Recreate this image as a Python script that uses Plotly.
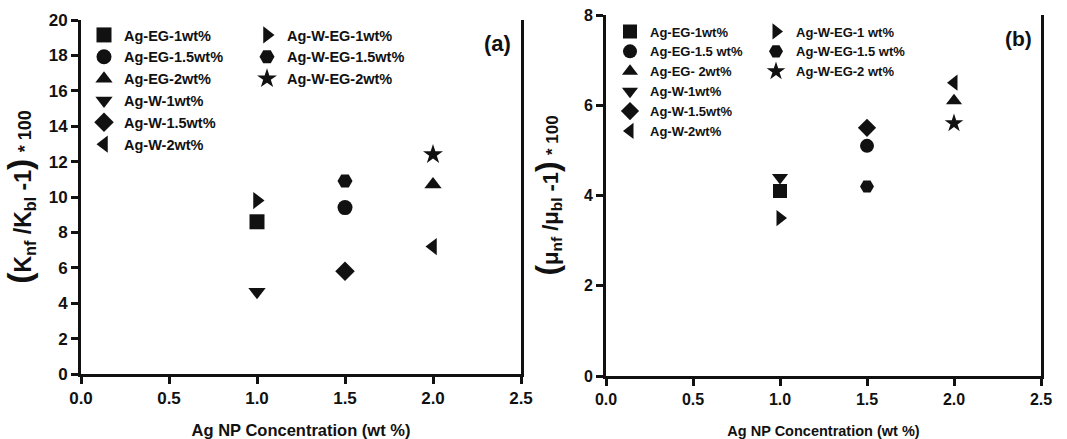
import plotly.graph_objects as go

# ---------------- data ----------------
series_a = ["Ag-EG-1wt%", "Ag-EG-1.5wt%", "Ag-EG-2wt%", "Ag-W-1wt%", "Ag-W-1.5wt%", "Ag-W-2wt%",
            "Ag-W-EG-1wt%", "Ag-W-EG-1.5wt%", "Ag-W-EG-2wt%"]
series_b = ["Ag-EG-1wt%", "Ag-EG-1.5 wt%", "Ag-EG- 2wt%", "Ag-W-1wt%", "Ag-W-1.5wt%", "Ag-W-2wt%",
            "Ag-W-EG-1 wt%", "Ag-W-EG-1.5 wt%", "Ag-W-EG-2 wt%"]
conc = [1.0, 1.5, 2.0, 1.0, 1.5, 2.0, 1.0, 1.5, 2.0]
k_enh = [8.6, 9.4, 10.7, 4.65, 5.8, 7.2, 9.8, 10.9, 12.4]
mu_enh = [4.1, 5.1, 6.1, 4.4, 5.5, 6.5, 3.5, 4.2, 5.6]
symbols = ["square", "circle", "triangle-up", "triangle-down", "diamond", "triangle-left",
           "triangle-right", "hexagon2", "star"]
x_ticks = [0.0, 0.5, 1.0, 1.5, 2.0, 2.5]
x_ticklabels = ["0.0", "0.5", "1.0", "1.5", "2.0", "2.5"]

FONT = "Arial, Liberation Sans, sans-serif"
W, H = 1067, 439

def px_x(p):
    return p / W

def px_y(p):
    return 1 - p / H

fig = go.Figure()

for i in range(9):
    lg_a = "legend" if i < 6 else "legend2"
    lg_b = "legend3" if i < 6 else "legend4"
    fig.add_trace(go.Scatter(x=[conc[i]], y=[k_enh[i]], mode="markers", name=series_a[i],
                             marker=dict(symbol=symbols[i], size=15, color="#111111",
                                         line=dict(width=0)),
                             xaxis="x", yaxis="y", legend=lg_a))
    fig.add_trace(go.Scatter(x=[conc[i]], y=[mu_enh[i]], mode="markers", name=series_b[i],
                             marker=dict(symbol=symbols[i], size=14, color="#111111",
                                         line=dict(width=0)),
                             xaxis="x2", yaxis="y2", legend=lg_b))

axis_common = dict(showline=True, linewidth=3, linecolor="#111111", ticks="outside",
                   ticklen=7, tickwidth=2.5, tickcolor="#111111", showgrid=False,
                   zeroline=False, automargin=False)

ytitle_a = ('<span style="font-size:34px">(</span>K<sub>nf</sub> /K<sub>bl</sub> -1'
            '<span style="font-size:34px">)</span> <span style="font-size:18px">* 100</span>')
ytitle_b = ('<span style="font-size:32px">(</span>μ<sub>nf</sub> /μ<sub>bl</sub> -1'
            '<span style="font-size:32px">)</span> <span style="font-size:17px">* 100</span>')

fig.update_layout(
    width=W, height=H,
    margin=dict(l=0, r=0, t=0, b=0, autoexpand=False),
    paper_bgcolor="white", plot_bgcolor="white",
    font=dict(family=FONT, color="#111111", weight="bold"),
    xaxis=dict(domain=[px_x(81), px_x(521)], range=[0, 2.5], tickvals=x_ticks,
               ticktext=x_ticklabels, anchor="y",
               tickfont=dict(size=17, family=FONT, weight="bold"),
               title=dict(text="Ag NP Concentration (wt %)", standoff=24,
                          font=dict(size=16.5, family=FONT, weight="bold")),
               **axis_common),
    yaxis=dict(domain=[px_y(374), px_y(20)], range=[0, 20], dtick=2, anchor="x",
               mirror=True,
               tickfont=dict(size=17, family=FONT, weight="bold"),
               title=dict(text=ytitle_a, standoff=14,
                          font=dict(size=23, family=FONT, weight="bold")),
               **axis_common),
    xaxis2=dict(domain=[px_x(606), px_x(1041)], range=[0, 2.5], tickvals=x_ticks,
                ticktext=x_ticklabels, anchor="y2",
                tickfont=dict(size=16, family=FONT, weight="bold"),
                title=dict(text="Ag NP Concentration (wt %)", standoff=24,
                           font=dict(size=14.5, family=FONT, weight="bold")),
                **axis_common),
    yaxis2=dict(domain=[px_y(376), px_y(15)], range=[0, 8], dtick=2, anchor="x2",
                mirror=True,
                tickfont=dict(size=16, family=FONT, weight="bold"),
                title=dict(text=ytitle_b, standoff=20,
                           font=dict(size=22, family=FONT, weight="bold")),
                **axis_common),
    showlegend=True,
)

leg_common = dict(bgcolor="rgba(0,0,0,0)", borderwidth=0, xanchor="left", yanchor="top",
                  tracegroupgap=0, itemclick=False, itemdoubleclick=False)
fig.update_layout(
    legend=dict(x=px_x(84), y=px_y(19), font=dict(size=14.5, family=FONT, weight="bold"), **leg_common),
    legend2=dict(x=px_x(247), y=px_y(19), font=dict(size=14.5, family=FONT, weight="bold"), **leg_common),
    legend3=dict(x=px_x(610), y=px_y(16.5), font=dict(size=13, family=FONT, weight="bold"), **leg_common),
    legend4=dict(x=px_x(756), y=px_y(16.5), font=dict(size=13, family=FONT, weight="bold"), **leg_common),
)

fig.add_annotation(x=px_x(497), y=px_y(43), xref="paper", yref="paper", text="(a)",
                   xanchor="center", yanchor="middle",
                   showarrow=False, font=dict(size=22, family=FONT, weight="bold"))
fig.add_annotation(x=px_x(1018), y=px_y(38), xref="paper", yref="paper", text="(b)",
                   xanchor="center", yanchor="middle",
                   showarrow=False, font=dict(size=21, family=FONT, weight="bold"))

fig.write_html("out.html")
